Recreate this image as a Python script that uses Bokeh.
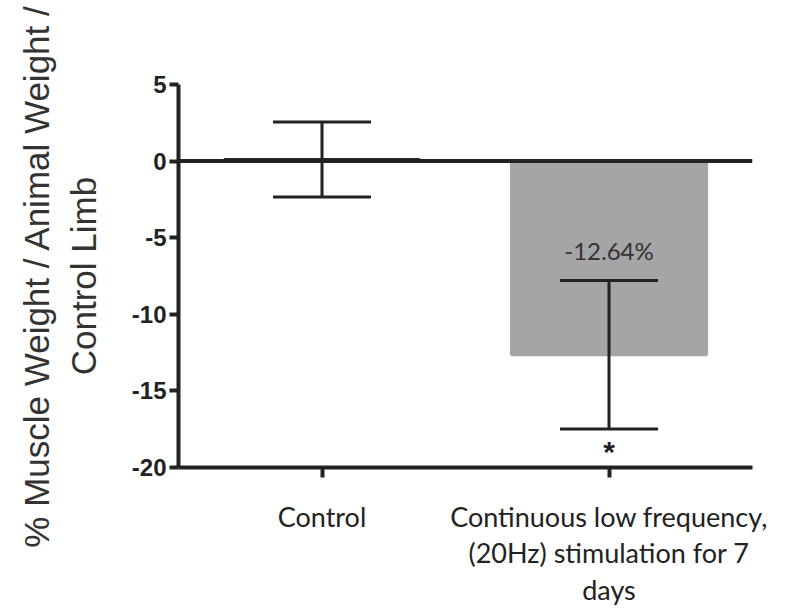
from bokeh.plotting import figure
from bokeh.models import FactorRange, Range1d, Span, Whisker, TeeHead, ColumnDataSource, FixedTicker
from bokeh.embed import file_html
from bokeh.resources import INLINE
from bokeh.core.properties import value

# ---- data ----
categories = ["Control", "Continuous low frequency,\n(20Hz) stimulation for 7\ndays"]
means = [0.1, -12.64]
sem = [2.45, 4.85]
bar_labels = ["", "-12.64%"]
sig_marks = ["", "*"]
y_ticks = [5, 0, -5, -10, -15, -20]
y_tick_labels = ["5", "0", "-5", "-10", "-15", "-20"]
y_title = "% Muscle Weight / Animal Weight /\nControl Limb"

upper = [m + s for m, s in zip(means, sem)]
lower = [m - s for m, s in zip(means, sem)]

src = ColumnDataSource(dict(cat=categories, mean=means, upper=upper, lower=lower,
                            label=bar_labels, sig=sig_marks,
                            fill=["#2a2a2a", "#a5a5a7"], line=["#2a2a2a", "#a5a5a7"]))

W, H = 783, 609
p = figure(width=W, height=H, x_range=FactorRange(*categories, range_padding=0),
           y_range=Range1d(-20, 5), output_backend="svg", toolbar_location=None,
           min_border_left=178, min_border_right=W - 752, min_border_top=84,
           min_border_bottom=H - 467)
p.background_fill_color = "white"
p.border_fill_color = "white"
p.outline_line_color = None
p.xgrid.grid_line_color = None
p.ygrid.grid_line_color = None

p.vbar(x="cat", top="mean", bottom=0, width=0.68, fill_color="fill", line_color="line",
       line_width=3, source=src)

p.add_layout(Span(location=0, dimension="width", line_color="#222222", line_width=4))

w = Whisker(base="cat", upper="upper", lower="lower", source=src, dimension="height",
            line_color="#222222", line_width=3, level="annotation",
            upper_head=TeeHead(size=98, line_width=3, line_color="#222222"),
            lower_head=TeeHead(size=98, line_width=3, line_color="#222222"))
p.add_layout(w)

p.text(x="cat", y="upper", text="label", source=src, text_align="center",
       text_baseline="alphabetic", y_offset=-30, text_font=value("Lato"),
       text_font_size="24px", text_color="#333333")
p.text(x="cat", y="lower", text="sig", source=src, text_align="center",
       text_baseline="middle", y_offset=22, text_font=value("Liberation Sans"),
       text_font_size="30px", text_font_style="bold", text_color="#222222")

# y axis
ya = p.yaxis[0]
ya.ticker = FixedTicker(ticks=y_ticks)
ya.major_label_overrides = dict(zip(y_ticks, y_tick_labels))
ya.axis_line_color = "#222222"
ya.axis_line_width = 4
ya.major_tick_line_color = "#222222"
ya.major_tick_line_width = 4
ya.major_tick_in = 0
ya.major_tick_out = 9
ya.minor_tick_line_color = None
ya.major_label_text_font = "Liberation Sans"
ya.major_label_text_font_style = "bold"
ya.major_label_text_font_size = "24px"
ya.major_label_text_color = "#222222"
ya.major_label_standoff = 3
ya.axis_label = y_title
ya.axis_label_text_font = "Liberation Sans"
ya.axis_label_text_font_style = "normal"
ya.axis_label_text_font_size = "35px"
ya.axis_label_text_color = "#333333"
ya.axis_label_text_line_height = 1.2
ya.axis_label_standoff = 26

# x axis
xa = p.xaxis[0]
xa.axis_line_color = "#222222"
xa.axis_line_width = 4
xa.major_tick_line_color = "#222222"
xa.major_tick_line_width = 4
xa.major_tick_in = 0
xa.major_tick_out = 10
xa.major_label_text_font = "Lato"
xa.major_label_text_font_size = "27px"
xa.major_label_text_color = "#222222"
xa.major_label_text_line_height = 1.12
xa.major_label_standoff = 22
xa.major_label_orientation = "horizontal"

open("out.html", "w").write(file_html(p, INLINE))
